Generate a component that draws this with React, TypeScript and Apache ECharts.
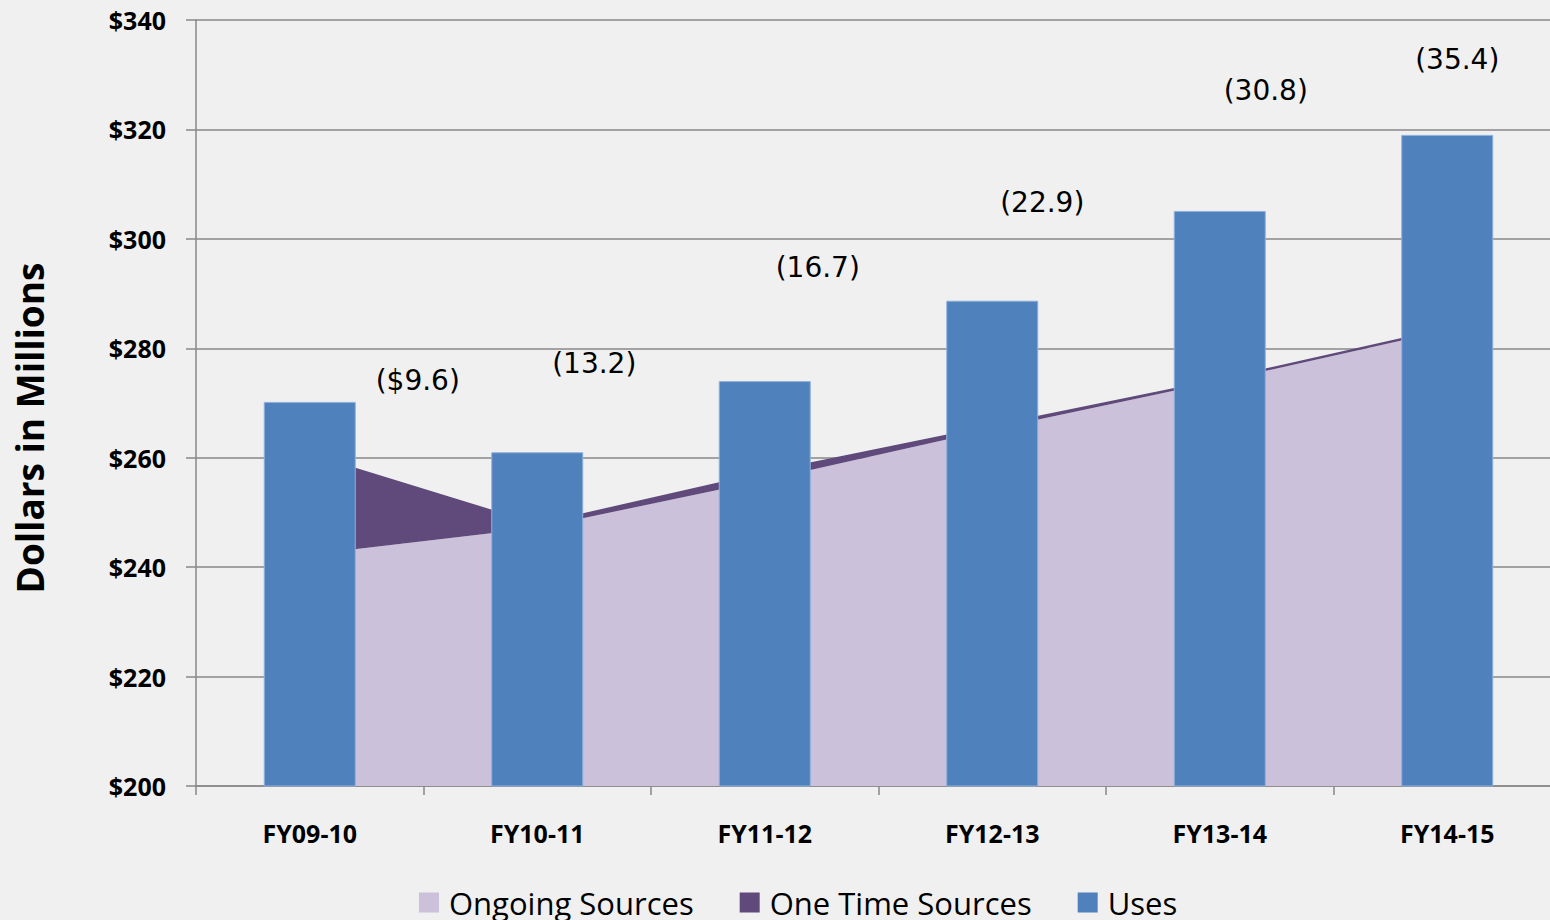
import React, { useEffect, useRef } from "react";
import * as echarts from "echarts";

const categories = ["FY09-10", "FY10-11", "FY11-12", "FY12-13", "FY13-14", "FY14-15"];
const ongoingSources = [242.3, 247.2, 255.9, 265.2, 274.0, 283.3];
const oneTimeSources = [18.3, 0.6, 1.4, 0.6, 0.3, 0.3];
const uses = [270.2, 261.0, 274.0, 288.7, 305.1, 319.0];
const deficitLabels = ["($9.6)", "(13.2)", "(16.7)", "(22.9)", "(30.8)", "(35.4)"];
const yTicks = { min: 200, max: 340, interval: 20 };

// label offsets (styling) relative to bar top
const labelOffsets = [
  [108, -7],
  [57, -75],
  [53, -100],
  [50, -84],
  [46, -106],
  [10, -61],
];

export default function App() {
  const ref = useRef<HTMLDivElement>(null);
  useEffect(() => {
    if (!ref.current) return;
    const chart = echarts.init(ref.current, undefined, { renderer: "svg" });
    const axisFont = "Open Sans";
    chart.setOption({
      animation: false,
      backgroundColor: "#f0f0f0",
      grid: { left: 196, top: 20, width: 1365, height: 766, containLabel: false },
      legend: {
        left: 414,
        top: 882,
        icon: "rect",
        itemWidth: 20,
        itemHeight: 20,
        itemGap: 46,
        data: ["Ongoing Sources", "One Time Sources", "Uses"],
        itemStyle: { borderWidth: 0 },
        textStyle: {
          fontFamily: axisFont,
          fontSize: 31,
          color: "#000",
          padding: [0, 0, 0, 5],
        },
      },
      xAxis: {
        type: "category",
        data: categories,
        boundaryGap: true,
        axisLine: { lineStyle: { color: "#888", width: 1.5 } },
        axisTick: { show: true, length: 9, lineStyle: { color: "#888", width: 1.5 } },
        axisLabel: {
          margin: 34,
          fontFamily: axisFont,
          fontWeight: "bold",
          fontSize: 25,
          color: "#000",
        },
      },
      yAxis: {
        type: "value",
        min: yTicks.min,
        max: yTicks.max,
        interval: yTicks.interval,
        axisLine: { show: true, lineStyle: { color: "#888", width: 1.5 } },
        axisTick: { show: true, length: 10, lineStyle: { color: "#888", width: 1.5 } },
        splitLine: { show: true, lineStyle: { color: "#888", width: 1.5 } },
        axisLabel: {
          margin: 30,
          formatter: (v: number) => "$" + v,
          fontFamily: axisFont,
          fontWeight: "bold",
          fontSize: 25,
          color: "#000",
        },
      },
      graphic: [
        {
          type: "text",
          x: 29,
          y: 428,
          rotation: Math.PI / 2,
          style: {
            text: "Dollars in Millions",
            fontFamily: axisFont,
            fontWeight: "bold",
            fontSize: 37,
            fill: "#000",
            textAlign: "center",
            textVerticalAlign: "middle",
            align: "center",
            verticalAlign: "middle",
          },
        },
      ],
      series: [
        {
          name: "Ongoing Sources",
          type: "line",
          stack: "src",
          data: ongoingSources,
          symbol: "none",
          z: 2,
          itemStyle: { color: "#ccc1da" },
          lineStyle: { width: 0, color: "#ccc1da" },
          areaStyle: { color: "#ccc1da", opacity: 1 },
        },
        {
          name: "One Time Sources",
          type: "line",
          stack: "src",
          data: oneTimeSources,
          symbol: "none",
          z: 2,
          itemStyle: { color: "#604a7b" },
          lineStyle: { width: 1.5, color: "#604a7b" },
          areaStyle: { color: "#604a7b", opacity: 1 },
        },
        {
          name: "Uses",
          type: "bar",
          z: 3,
          barWidth: 92,
          data: uses.map((v, i) => ({
            value: v,
            label: {
              show: true,
              position: "top",
              distance: 0,
              offset: labelOffsets[i],
              formatter: deficitLabels[i],
            },
          })),
          itemStyle: { color: "#4f81bd", borderColor: "#8fb1dc", borderWidth: 1 },
          label: {
            fontFamily: "DejaVu Sans",
            fontSize: 28,
            lineHeight: 28,
            color: "#000",
          },
        },
      ],
    });
    return () => chart.dispose();
  }, []);
  return (
    <div
      style={{
        position: "fixed",
        left: 0,
        top: 0,
        width: 1550,
        height: 920,
        overflow: "hidden",
      }}
    >
      <div ref={ref} style={{ width: 1562, height: 920 }} />
    </div>
  );
}
